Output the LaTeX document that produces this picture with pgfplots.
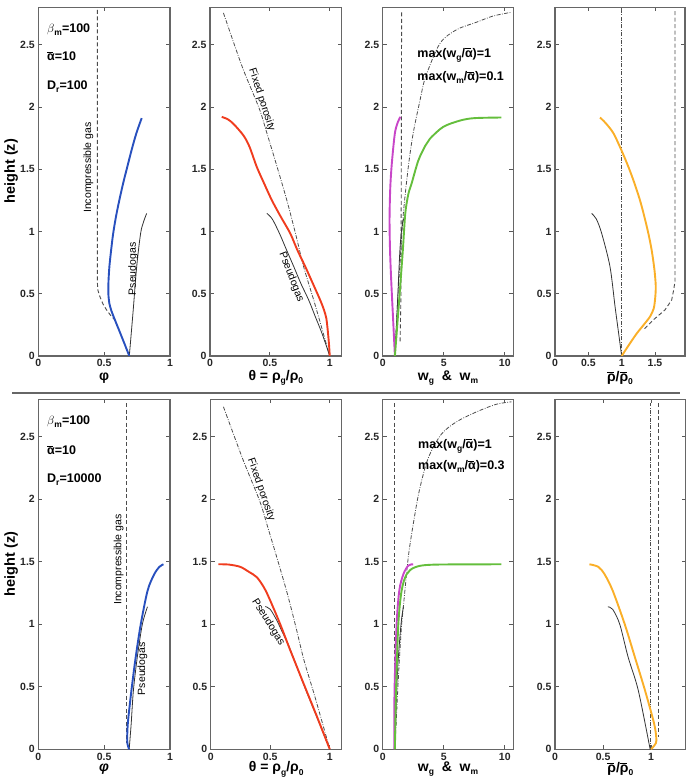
\documentclass[border=0pt]{standalone}
\usepackage{fontspec}
\setmainfont{Liberation Sans}
\usepackage{pgfplots}
\pgfplotsset{compat=1.18}

\definecolor{cblue}{RGB}{40,80,190}
\definecolor{cred}{RGB}{240,60,30}
\definecolor{cmag}{RGB}{200,70,200}
\definecolor{cgreen}{RGB}{100,190,60}
\definecolor{corange}{RGB}{250,175,40}

% small lowered subscript in the current text font
\def\sub#1{\lower0.45ex\hbox{\fontsize{8.5}{8.5}\selectfont #1}}
\def\abar{\vbox{\hrule height0.7pt width0.5em\kern1.3pt\hbox{α}}}
\def\rbar{\vbox{\hrule height0.7pt width0.5em\kern1.3pt\hbox{ρ}}}

\tikzset{
  notetext/.style={font=\bfseries\fontsize{12.5}{14}\selectfont, anchor=base west, inner sep=0pt},
  curvetext/.style={font=\fontsize{10.5}{12}\selectfont, inner sep=0pt},
}
\pgfplotsset{
  panel/.style={
    scale only axis, anchor=south west,
    ymin=0, ymax=2.8, ytick={0,0.5,1,1.5,2,2.5},
    tick align=inside, major tick length=4pt,
    axis line style={black!60, line width=1.2pt},
    every tick/.append style={black!65, line width=0.8pt},
    ticklabel style={font=\bfseries\fontsize{10.5}{12}\selectfont, text=black!85},
    /pgf/number format/assume math mode=true,
    xlabel style={font=\bfseries\fontsize{14}{16}\selectfont,
      at={(axis description cs:0.5,0)}, anchor=center, yshift=-22pt},
    ylabel style={font=\bfseries\fontsize{14.5}{17}\selectfont,
      at={(axis description cs:-0.207,0.53)}, anchor=center},
  },
  toprow/.style={panel, height=348.7pt},
  botrow/.style={panel, height=350pt, xlabel style={yshift=2pt}},
  thickline/.style={line width=1.9pt, smooth, tension=0.5},
  pseudoline/.style={black!80, line width=0.8pt, smooth, tension=0.5},
  incompline/.style={black!70, line width=0.9pt, dash pattern=on 4pt off 2.5pt},
  fixedline/.style={black!70, line width=0.8pt, dash pattern=on 4pt off 1.5pt on 0.8pt off 1.5pt},
}

\begin{document}
\begin{tikzpicture}

% ---------------- top row: D_r = 100 ----------------
\begin{axis}[toprow, at={(38.3pt,421pt)}, width=131.7pt, xmin=0, xmax=1,
  xtick={0,0.5,1}, xlabel={φ}, ylabel={height (z)}]
\addplot[incompline] coordinates {(0.448,2.78) (0.448,0.60) (0.452,0.53) (0.468,0.476)
  (0.49,0.42) (0.519,0.369) (0.55,0.325) (0.582,0.289)};
\addplot[pseudoline] coordinates {(0.691,0) (0.72,0.36) (0.747,0.717) (0.777,0.985)
  (0.80,1.08) (0.823,1.145)};
\addplot[cblue, thickline] coordinates {(0.691,0) (0.637,0.145) (0.582,0.289)
  (0.556,0.36) (0.54,0.42) (0.532,0.50) (0.533,0.60) (0.54,0.72) (0.553,0.85)
  (0.568,0.98) (0.59,1.12) (0.615,1.25) (0.645,1.39) (0.676,1.52) (0.71,1.66)
  (0.745,1.79) (0.785,1.91)};
\node[notetext] at (axis cs:0.066,2.60) {$\beta$\sub{m}=100};
\node[notetext] at (axis cs:0.066,2.37) {\abar=10};
\node[notetext] at (axis cs:0.066,2.14) {D\sub{r}=100};
\node[curvetext, rotate=90] at (axis cs:0.38,1.513) {Incompressible gas};
\node[curvetext, rotate=90] at (axis cs:0.72,0.70) {Pseudogas};
\end{axis}

\begin{axis}[toprow, at={(210pt,421pt)}, width=131.7pt, xmin=0, xmax=1.1,
  xtick={0,0.5,1}, xlabel={θ = ρ\sub{g}/ρ\sub{0}}]
\addplot[fixedline, smooth] coordinates {(0.112,2.755) (0.27,2.32) (0.41,1.99) (0.475,1.79)
  (0.56,1.52) (0.642,1.25) (0.715,0.98) (0.782,0.717) (0.866,0.45) (0.935,0.22) (1.0,0)};
\addplot[pseudoline] coordinates {(0.475,1.145) (0.52,1.1) (0.58,0.985) (0.64,0.85)
  (0.70,0.717) (0.76,0.58) (0.824,0.45) (0.88,0.315) (0.936,0.18) (1.0,0)};
\addplot[cred, thickline] coordinates {(0.098,1.92) (0.15,1.9) (0.2,1.86) (0.28,1.77)
  (0.33,1.68) (0.39,1.52) (0.45,1.39) (0.517,1.25) (0.59,1.12) (0.67,0.985)
  (0.73,0.85) (0.796,0.717) (0.86,0.58) (0.92,0.45) (0.952,0.37) (0.972,0.30)
  (0.986,0.18) (0.995,0.08) (1.0,0)};
\node[curvetext, rotate=-72] at (axis cs:0.433,2.055) {Fixed porosity};
\node[curvetext, rotate=-69] at (axis cs:0.679,0.634) {Pseudogas};
\end{axis}

\begin{axis}[toprow, at={(382.7pt,421pt)}, width=130.6pt, xmin=0, xmax=10.7,
  xtick={0,5,10}, xlabel={w\sub{g}\ \ \&\ \ w\sub{m}}]
\addplot[incompline] coordinates {(1.55,2.76) (1.5,0.5) (1.42,0.1)};
\addplot[fixedline, smooth] coordinates {(1.0,0) (1.2,0.4) (1.45,0.8) (1.69,1.145)
  (2.1,1.52) (2.5,1.79) (3.05,2.05) (3.51,2.24) (4.69,2.51) (6.05,2.62)
  (7.68,2.68) (9.05,2.73) (10.55,2.76)};
\addplot[pseudoline] coordinates {(1.0,0) (1.2,0.4) (1.41,0.85) (1.6,1.05) (1.83,1.13)};
\addplot[cmag, thickline] coordinates {(1.0,0) (0.85,0.3) (0.7,0.6) (0.6,0.85)
  (0.56,1.1) (0.62,1.35) (0.75,1.55) (1.0,1.79) (1.25,1.88) (1.45,1.92)};
\addplot[cgreen, thickline] coordinates {(1.0,0) (1.35,0.45) (1.65,0.85) (1.85,1.145)
  (2.1,1.3) (2.37,1.386) (2.92,1.57) (3.5,1.69) (3.87,1.745) (4.96,1.84)
  (6.32,1.89) (7.5,1.91) (9.73,1.915)};
\node[notetext] at (axis cs:2.83,2.40) {max(w\sub{g}/\abar)=1};
\node[notetext] at (axis cs:2.83,2.21) {max(w\sub{m}/\abar)=0.1};
\end{axis}

\begin{axis}[toprow, at={(555pt,421pt)}, width=130pt, xmin=0, xmax=1.95,
  xtick={0,0.5,1,1.5}, xlabel={\rbar/\rbar\sub{0}}]
\addplot[fixedline] coordinates {(1.0,0) (1.0,2.77)};
\addplot[incompline] coordinates {(1.8,2.77) (1.8,0.6) (1.78,0.53) (1.75,0.45)
  (1.65,0.37) (1.475,0.29) (1.325,0.21)};
\addplot[pseudoline] coordinates {(1.0,0) (0.95,0.2) (0.9,0.4) (0.825,0.717)
  (0.7,0.985) (0.62,1.1) (0.55,1.145)};
\addplot[corange, thickline] coordinates {(1.0,0) (1.11,0.09) (1.225,0.18) (1.33,0.25)
  (1.425,0.316) (1.48,0.38) (1.5,0.45) (1.51,0.52) (1.51,0.58) (1.49,0.7)
  (1.45,0.85) (1.4,0.985) (1.34,1.12) (1.275,1.25) (1.19,1.39) (1.1,1.52)
  (0.99,1.66) (0.875,1.79) (0.76,1.87) (0.675,1.915)};
\end{axis}

% separator between the two cases
\draw[black!60, line width=1.5pt] (12pt,384pt) -- (680pt,384pt);

% ---------------- bottom row: D_r = 10000 ----------------
\begin{axis}[botrow, at={(38.3pt,27.7pt)}, width=131.7pt, xmin=0, xmax=1,
  xtick={0,0.5,1}, xlabel={\itshape φ}, ylabel={height (z)}]
\addplot[incompline] coordinates {(0.671,2.77) (0.671,0.05)};
\addplot[pseudoline] coordinates {(0.69,0) (0.705,0.2) (0.722,0.47) (0.752,0.74)
  (0.79,1.0) (0.829,1.14)};
\addplot[cblue, thickline] coordinates {(0.69,0) (0.68,0.03) (0.675,0.074) (0.68,0.21)
  (0.707,0.47) (0.74,0.74) (0.778,1.0) (0.83,1.27) (0.88,1.4) (0.92,1.46) (0.95,1.48)};
\node[notetext] at (axis cs:0.066,2.596) {$\beta$\sub{m}=100};
\node[notetext] at (axis cs:0.066,2.357) {\abar=10};
\node[notetext] at (axis cs:0.066,2.133) {D\sub{r}=10000};
\node[curvetext, rotate=90] at (axis cs:0.61,1.517) {Incompressible gas};
\node[curvetext, rotate=90] at (axis cs:0.79,0.644) {Pseudogas};
\end{axis}

\begin{axis}[botrow, at={(210.7pt,27.7pt)}, width=131pt, xmin=0, xmax=1.1,
  xtick={0,0.5,1}, xlabel={θ = ρ\sub{g}/ρ\sub{0}}]
\addplot[fixedline, smooth] coordinates {(0.107,2.74) (0.27,2.32) (0.41,1.99) (0.475,1.79)
  (0.56,1.52) (0.642,1.25) (0.715,0.98) (0.782,0.717) (0.866,0.45) (0.935,0.22) (1.0,0)};
\addplot[pseudoline] coordinates {(0.458,1.142) (0.5,1.12) (0.556,1.03) (0.6,0.94)
  (0.65,0.84) (0.7,0.72) (0.78,0.52) (0.89,0.26) (1.0,0)};
\addplot[cred, thickline] coordinates {(0.065,1.48) (0.15,1.478) (0.247,1.46)
  (0.32,1.42) (0.388,1.376) (0.45,1.29) (0.5,1.19) (0.584,1.0) (0.669,0.79)
  (0.78,0.526) (0.893,0.26) (1.0,0)};
\node[curvetext, rotate=-71] at (axis cs:0.424,2.076) {Fixed porosity};
\node[curvetext, rotate=-58] at (axis cs:0.483,1.015) {Pseudogas};
\end{axis}

\begin{axis}[botrow, at={(382.7pt,27.7pt)}, width=130.6pt, xmin=0, xmax=10.7,
  xtick={0,5,10}, xlabel={w\sub{g}\ \ \&\ \ w\sub{m}}]
\addplot[incompline] coordinates {(1.0,2.77) (1.0,0)};
\addplot[fixedline, smooth] coordinates {(1.0,0) (1.3,0.6) (1.55,1.0) (1.7,1.15)
  (2.1,1.54) (2.5,1.8) (3.0,2.07) (3.73,2.33) (4.8,2.52) (6.05,2.62)
  (7.7,2.7) (9.3,2.76) (10.55,2.78)};
\addplot[pseudoline] coordinates {(1.0,0) (1.2,0.6) (1.5,1.0) (1.7,1.14)};
\addplot[cmag, thickline] coordinates {(0.95,0) (0.97,0.47) (1.14,1.0) (1.36,1.27)
  (1.69,1.4) (2.1,1.47) (2.5,1.48)};
\addplot[cgreen, thickline] coordinates {(1.0,0) (1.09,0.47) (1.28,1.0) (1.55,1.27)
  (1.96,1.40) (2.64,1.456) (4.14,1.477) (9.73,1.48)};
\node[notetext] at (axis cs:2.89,2.41) {max(w\sub{g}/\abar)=1};
\node[notetext] at (axis cs:2.89,2.24) {max(w\sub{m}/\abar)=0.3};
\end{axis}

\begin{axis}[botrow, at={(555pt,27.7pt)}, width=130.7pt, xmin=0, xmax=1.36,
  xtick={0,0.5,1}, xlabel={\rbar/\rbar\sub{0}}]
\addplot[fixedline] coordinates {(0.99,0) (0.99,2.77)};
\addplot[incompline] coordinates {(1.077,2.77) (1.077,0.1)};
\addplot[pseudoline] coordinates {(0.99,0) (0.867,0.47) (0.76,0.74) (0.674,1.0)
  (0.6,1.12) (0.55,1.14)};
\addplot[corange, thickline] coordinates {(1.0,0) (1.05,0.05) (1.053,0.1) (1.03,0.21)
  (0.937,0.47) (0.83,0.74) (0.726,1.0) (0.6,1.27) (0.516,1.4) (0.45,1.46) (0.358,1.48)};
\end{axis}

\pgfresetboundingbox
\path[use as bounding box] (0pt,0pt) rectangle (695pt,777pt);
\end{tikzpicture}
\end{document}
